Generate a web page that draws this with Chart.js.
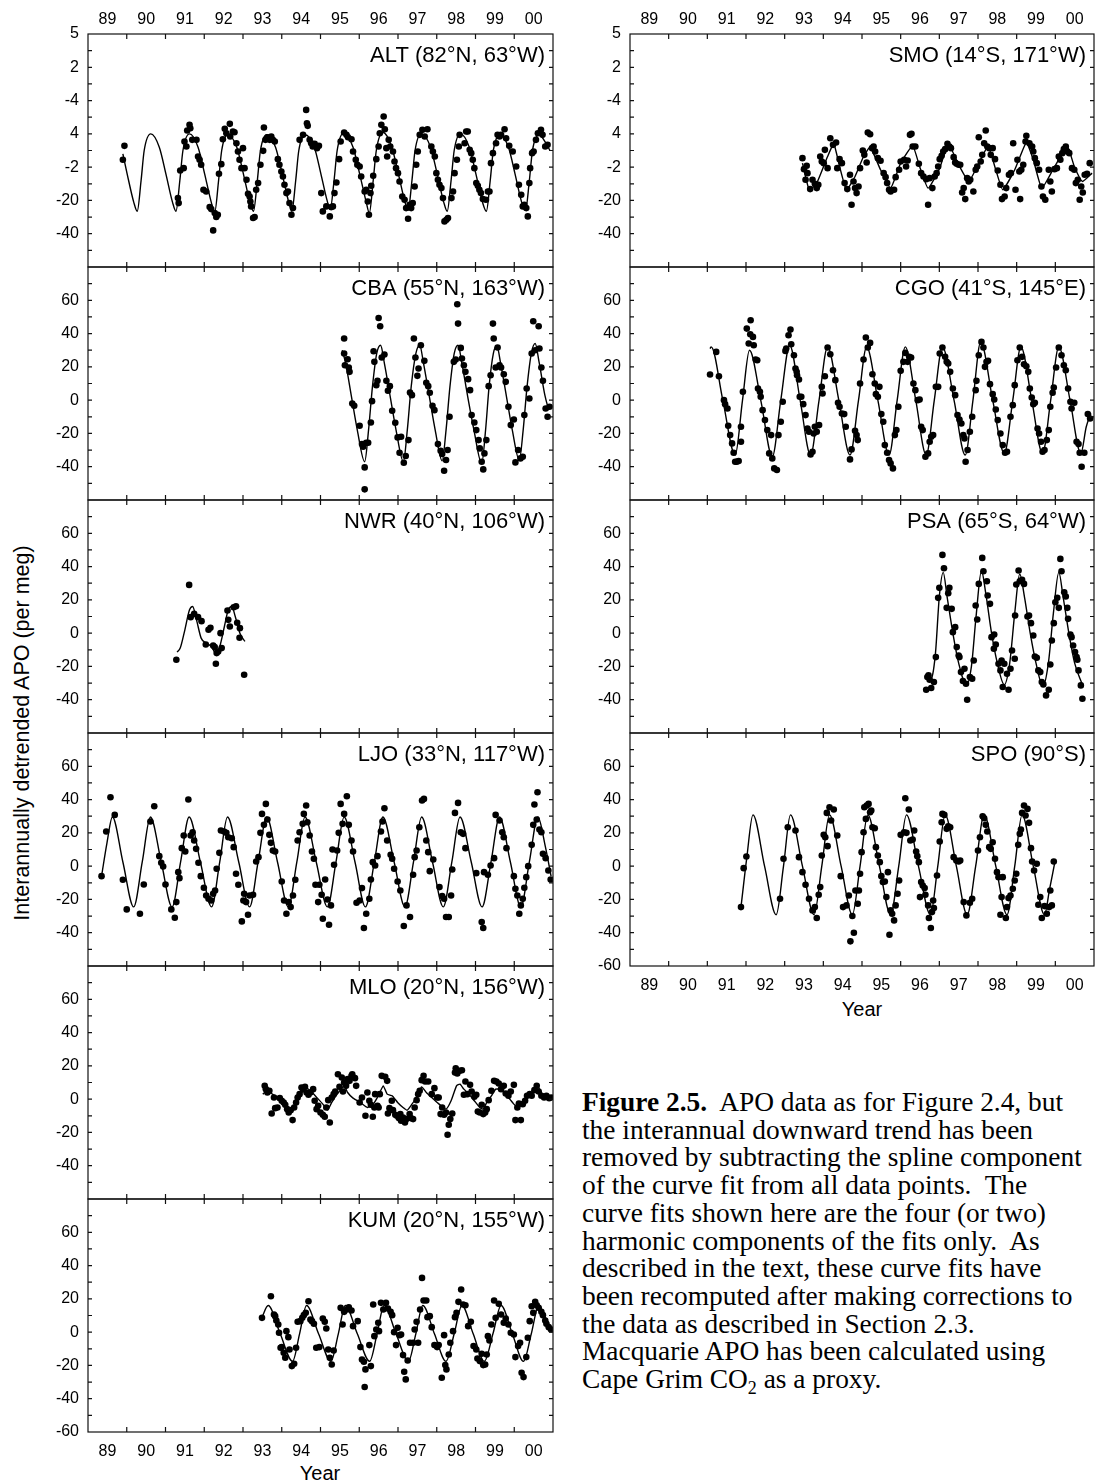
<!DOCTYPE html>
<html>
<head>
<meta charset="utf-8">
<script src="https://cdn.jsdelivr.net/npm/chart.js@4.4.1/dist/chart.umd.min.js"></script>
<style>
  body { margin: 0; width: 1095px; height: 1483px; overflow: hidden; background: #fff; position: relative;
         font-family: "Liberation Sans", Arial, sans-serif; color: #000; }
  canvas { position: absolute; }
  .ytitle { position: absolute; left: 22px; top: 733px; font-size: 21.5px; white-space: nowrap;
            transform: translate(-50%, -50%) rotate(-90deg); }
  .xtitle { position: absolute; font-size: 20px; transform: translate(-50%, -50%); }
  .caption { position: absolute; left: 582px; top: 1089px; font-family: "Liberation Serif", "Times New Roman", serif;
             font-size: 27.4px; line-height: 27.7px; white-space: nowrap; }
</style>
</head>
<body>
<div class="ytitle">Interannually detrended APO (per meg)</div>
<div class="xtitle" style="left:320px; top:1473px">Year</div>
<div class="xtitle" style="left:862px; top:1009px">Year</div>
<div class="caption"><b>Figure 2.5.</b>&nbsp; APO data as for Figure 2.4, but<br>
the interannual downward trend has been<br>
removed by subtracting the spline component<br>
of the curve fit from all data points.&nbsp; The<br>
curve fits shown here are the four (or two)<br>
harmonic components of the fits only.&nbsp; As<br>
described in the text, these curve fits have<br>
been recomputed after making corrections to<br>
the data as described in Section 2.3.<br>
Macquarie APO has been calculated using<br>
Cape Grim CO<sub style="font-size:18px; line-height:0">2</sub> as a proxy.</div>
<script>
// tick labels
const yearLabels = ['89', '90', '91', '92', '93', '94', '95', '96', '97', '98', '99', '00'];
const yTickValues = [80, 60, 40, 20, 0, -20, -40, -60];
const oddTicks = ['5', '2', '-4', '4', '-2', '-20', '-40', ''];
const plainTicks = ['', '60', '40', '20', '0', '-20', '-40', ''];
const bottomTicks = ['', '60', '40', '20', '0', '-20', '-40', '-60'];

// ALT
const altFit = [
  [1989.90, 8], [1990.01, -4], [1990.18, -21],
  [1990.27, -26.5], [1990.37, -8], [1990.45, 10], [1990.62, 20], [1990.84, 12], [1991.01, -4], [1991.18, -21],
  [1991.27, -26.5], [1991.37, -8], [1991.45, 10], [1991.62, 20], [1991.84, 12], [1992.01, -4], [1992.18, -21],
  [1992.27, -27], [1992.37, -8], [1992.45, 10], [1992.60, 19.5], [1992.84, 12], [1993.01, -4], [1993.18, -21],
  [1993.27, -26.5], [1993.37, -8], [1993.45, 10], [1993.61, 19.5], [1993.84, 12], [1994.01, -4], [1994.18, -21],
  [1994.26, -26.5], [1994.36, -8], [1994.44, 10], [1994.60, 19.5], [1994.84, 12], [1995.01, -4], [1995.17, -20],
  [1995.25, -25.5], [1995.35, -8], [1995.43, 10], [1995.60, 20.5], [1995.84, 12], [1996.01, -4], [1996.18, -21],
  [1996.26, -27.5], [1996.36, -8], [1996.44, 10], [1996.61, 21], [1996.84, 12], [1997.01, -4], [1997.18, -21],
  [1997.26, -26], [1997.36, -8], [1997.44, 10], [1997.60, 20], [1997.84, 12], [1998.01, -4], [1998.18, -21],
  [1998.27, -26.5], [1998.37, -8], [1998.45, 10], [1998.61, 20], [1998.84, 12], [1999.01, -4], [1999.18, -21],
  [1999.28, -26.5], [1999.38, -8], [1999.46, 10], [1999.63, 19.5], [1999.85, 12], [2000.02, -4], [2000.19, -21],
  [2000.29, -26], [2000.39, -8], [2000.47, 10], [2000.64, 19.5], [2000.85, 13], [2000.92, 10]
];
const altObs = [
  [1989.90, 4.4], [1989.94, 12.8], [1991.32, -18.6], [1991.34, -21.6], [1991.38, -2], [1991.47, -0.6], [1991.49, 15.4],
  [1991.54, 12.4], [1991.56, 22], [1991.62, 25.4], [1991.64, 23.4], [1991.69, 16.4], [1991.80, 16.4], [1991.84, 6.4],
  [1991.88, 4.4], [1991.92, 1.4], [1991.98, -13.6], [1992.05, -14.6], [1992.14, -24], [1992.18, -25.2], [1992.23, -38],
  [1992.27, -27.6], [1992.31, -30], [1992.35, -28.6], [1992.38, -4], [1992.44, 1.8], [1992.48, 16.8], [1992.53, 23],
  [1992.57, 20.4], [1992.66, 26], [1992.67, 18.4], [1992.74, 21.4], [1992.78, 21], [1992.83, 14.4], [1992.87, 9.4],
  [1992.91, 4.4], [1992.96, -0.6], [1993.00, 11.4], [1993.04, -0.6], [1993.09, -7.6], [1993.13, -16], [1993.17, -17.6],
  [1993.19, -20.6], [1993.21, -23.6], [1993.26, -30.6], [1993.30, -30], [1993.34, -13.6], [1993.39, -9.6], [1993.45, 1.4],
  [1993.52, 9.8], [1993.54, 23.8], [1993.58, 16.4], [1993.64, 18], [1993.69, 16.4], [1993.73, 18.4], [1993.77, 16.4],
  [1993.82, 15.4], [1993.90, 4.8], [1993.94, 1.4], [1993.99, -2.6], [1994.03, -5.6], [1994.07, -10.6], [1994.12, -15.6],
  [1994.16, -14.6], [1994.20, -21.6], [1994.25, -28.6], [1994.29, -24.6], [1994.46, 16.4], [1994.55, 19.4], [1994.63, 34.4],
  [1994.65, 26.4], [1994.67, 24.8], [1994.72, 16.4], [1994.76, 14.4], [1994.80, 12.4], [1994.85, 14], [1994.91, 11.4],
  [1994.96, 12.8], [1995.02, -15.6], [1995.06, -26.6], [1995.15, -23.6], [1995.24, -29.6], [1995.28, -24], [1995.32, -23.6],
  [1995.36, -15.6], [1995.41, -9.2], [1995.48, 4.8], [1995.52, 15.4], [1995.61, 20.8], [1995.67, 19.4], [1995.71, 18],
  [1995.80, 16.8], [1995.84, 9.4], [1995.91, 4.4], [1995.95, 1.4], [1996.01, 0.4], [1996.05, -5.6], [1996.14, -14.6],
  [1996.18, -13.6], [1996.22, -20.6], [1996.25, -28.6], [1996.29, -15.6], [1996.31, -11.2], [1996.36, -5.2], [1996.44, 4.8],
  [1996.50, 12.4], [1996.53, 20.4], [1996.57, 25.4], [1996.63, 30.4], [1996.66, 22.8], [1996.70, 11.4], [1996.72, 6.4],
  [1996.76, 16.4], [1996.80, 12.4], [1996.87, 9.4], [1996.91, 3.4], [1996.95, -0.6], [1997.00, -3.6], [1997.04, -8.6],
  [1997.11, -17.6], [1997.17, -19.6], [1997.21, -24.6], [1997.26, -31], [1997.30, -22.6], [1997.34, -24.6], [1997.38, -21.6],
  [1997.43, -11.6], [1997.47, 1.4], [1997.51, 9.4], [1997.56, 19.4], [1997.63, 22.4], [1997.69, 18.4], [1997.76, 22.8],
  [1997.86, 12.4], [1997.90, 9.4], [1997.95, 6.4], [1997.99, -3.6], [1998.03, -7.6], [1998.07, -10.6], [1998.12, -12.6],
  [1998.16, -18.6], [1998.20, -32.6], [1998.25, -31.6], [1998.29, -30.6], [1998.38, -18.6], [1998.42, -14.6], [1998.46, -3.6],
  [1998.52, 4.4], [1998.57, 12.4], [1998.59, 19.4], [1998.72, 14.4], [1998.76, 21.4], [1998.80, 21.4], [1998.85, 10.4],
  [1998.89, 8.4], [1998.93, 4.4], [1998.97, -0.6], [1999.02, -9.6], [1999.06, -11.2], [1999.10, -13.6], [1999.14, -15.6],
  [1999.19, -19.2], [1999.27, -19.6], [1999.32, -14.6], [1999.36, -14.6], [1999.40, 2.4], [1999.45, 8.4], [1999.53, 14.4],
  [1999.57, 19.4], [1999.62, 18.4], [1999.66, 19.4], [1999.75, 22.8], [1999.79, 17.4], [1999.87, 12.8], [1999.96, 9.4],
  [2000.05, 0.4], [2000.12, -10.6], [2000.18, -16.6], [2000.22, -23.6], [2000.26, -22.6], [2000.31, -24.6], [2000.35, -29.6],
  [2000.39, -9.6], [2000.41, -0.6], [2000.46, 8.4], [2000.50, 9.4], [2000.56, 16.4], [2000.61, 20.4], [2000.69, 22.4],
  [2000.73, 19.4], [2000.80, 12.4], [2000.86, 13.4]
];

// CBA
const cbaFit = [
  [1995.56, 30], [1995.65, 22], [1995.80, 2], [1995.95, -18],
  [1996.14, -37], [1996.24, -18], [1996.34, 8], [1996.45, 28], [1996.55, 33], [1996.65, 22], [1996.80, 2], [1996.95, -18],
  [1997.14, -37], [1997.24, -18], [1997.34, 8], [1997.46, 28], [1997.56, 33], [1997.66, 22], [1997.81, 2], [1997.96, -18],
  [1998.14, -36.5], [1998.24, -18], [1998.34, 8], [1998.45, 28], [1998.55, 33], [1998.65, 22], [1998.80, 2], [1998.96, -18],
  [1999.16, -38], [1999.26, -18], [1999.35, 8], [1999.46, 28], [1999.55, 32.5], [1999.65, 22], [1999.80, 2], [1999.95, -18],
  [2000.13, -36], [2000.23, -18], [2000.33, 8], [2000.44, 28], [2000.54, 34], [2000.64, 23], [2000.79, 3], [2000.89, -6]
];
const cbaObs = [
  [1995.61, 37], [1995.61, 28], [1995.63, 21], [1995.70, 24.6], [1995.73, 19.6], [1995.75, 17], [1995.82, -2], [1995.87, -3.4],
  [1996.01, -15.4], [1996.07, -26.4], [1996.10, -28], [1996.14, -40.4], [1996.14, -53.6], [1996.18, -25.6], [1996.23, -25.6],
  [1996.30, -13.4], [1996.33, -0.6], [1996.39, 23], [1996.37, 29.4], [1996.44, 9], [1996.47, 11.6], [1996.50, 49.4],
  [1996.54, 44.4], [1996.58, 25.6], [1996.65, 27.4], [1996.70, 11.6], [1996.74, 5.6], [1996.79, 8.4], [1996.85, -6.4],
  [1996.93, -13.6], [1996.99, -22.4], [1997.04, -31.6], [1997.08, -22], [1997.15, -37.6], [1997.20, -33.6], [1997.27, -24],
  [1997.31, 4.6], [1997.36, 3], [1997.41, 37], [1997.45, 25.6], [1997.50, 14.6], [1997.53, 19], [1997.59, 33], [1997.68, 23.6],
  [1997.73, 10.4], [1997.78, 8.4], [1997.82, 4.4], [1997.89, -3.4], [1997.94, -6], [1998.03, -26.4], [1998.10, -30.4],
  [1998.14, -32.4], [1998.19, -42.4], [1998.24, -36], [1998.28, -30], [1998.33, -10], [1998.44, 23], [1998.49, 24.4],
  [1998.53, 57.6], [1998.55, 46], [1998.62, 31.4], [1998.65, 25], [1998.70, 21], [1998.74, 17], [1998.81, 12.6], [1998.86, 6],
  [1998.90, -9], [1998.97, -13.4], [1999.02, -18], [1999.08, -24], [1999.11, -29], [1999.16, -37], [1999.20, -41.6],
  [1999.23, -32], [1999.28, -24], [1999.34, 8.4], [1999.39, 15], [1999.45, 46], [1999.47, 37], [1999.52, 19.6], [1999.57, 31.6],
  [1999.62, 21], [1999.66, 19.6], [1999.73, 15.6], [1999.78, 11], [1999.85, -4], [1999.91, -15], [1999.99, -11.6],
  [2000.03, -37.4], [2000.10, -30], [2000.16, -35], [2000.22, -34], [2000.26, -9], [2000.32, 7], [2000.39, 1], [2000.45, 28],
  [2000.49, 47.4], [2000.54, 30], [2000.63, 44.4], [2000.65, 31], [2000.70, 19.6], [2000.74, 11.6], [2000.81, -5],
  [2000.86, -10], [2000.91, -4]
];

// NWR
const nwrFit = [
  [1991.30, -11.4], [1991.38, -9], [1991.50, 2], [1991.62, 14], [1991.70, 16], [1991.80, 8], [1991.92, -3], [1992.05, -6],
  [1992.18, -8], [1992.30, -12], [1992.40, -8], [1992.52, 4], [1992.62, 14], [1992.71, 16], [1992.80, 10], [1992.92, 0],
  [1993.05, -5]
];
const nwrObs = [
  [1991.28, -16], [1991.61, 29], [1991.65, 9.6], [1991.74, 11.6], [1991.84, 9.6], [1991.93, 7.2], [1992.04, -6.8],
  [1992.11, 2], [1992.16, 3.2], [1992.23, -7.4], [1992.27, -8.4], [1992.30, -18.4], [1992.32, -12], [1992.36, -11],
  [1992.42, 0], [1992.45, -9], [1992.60, 13.6], [1992.62, 8], [1992.66, 4], [1992.76, 15.6], [1992.82, 16.2],
  [1992.85, 6.2], [1992.92, 3], [1992.91, -2.8], [1993.03, -25]
];

// LJO
const ljoFit = [
  [1989.35, -6], [1989.49, 14], [1989.63, 29.5], [1989.90, 2.5],
  [1990.18, -24.5], [1990.40, 2.5], [1990.61, 29.5], [1990.89, 2.5],
  [1991.17, -24.5], [1991.39, 2.5], [1991.61, 29.5], [1991.90, 2.5],
  [1992.19, -24.5], [1992.40, 2.5], [1992.60, 29.5], [1992.89, 2.5],
  [1993.17, -24.5], [1993.39, 2.5], [1993.61, 29.5], [1993.89, 2.5],
  [1994.17, -24.5], [1994.39, 2.5], [1994.60, 29.5], [1994.89, 2.5],
  [1995.18, -24.5], [1995.40, 2.5], [1995.61, 29.5], [1995.89, 2.5],
  [1996.16, -24.5], [1996.39, 2.5], [1996.61, 29.5], [1996.90, 2.5],
  [1997.18, -24.5], [1997.40, 2.5], [1997.61, 29.5], [1997.89, 2.5],
  [1998.17, -24.5], [1998.39, 2.5], [1998.60, 29.5], [1998.89, 2.5],
  [1999.17, -24.5], [1999.40, 2.5], [1999.62, 29.5], [1999.90, 2.5],
  [2000.17, -24.5], [2000.39, 2.5], [2000.61, 29.5], [2000.80, 12], [2000.95, -6]
];
const ljoObs = [
  [1989.35, -6], [1989.47, 20.8], [1989.58, 41.4], [1989.69, 30.8], [1989.90, -8.2], [1990.00, -26], [1990.34, -28.6],
  [1990.44, -11], [1990.71, 36], [1990.61, 26.8], [1990.84, 6], [1990.89, 2], [1990.94, -0.2], [1991.00, -11],
  [1991.15, -26], [1991.24, -31], [1991.28, -21.6], [1991.33, -3.6], [1991.36, -7.2], [1991.42, 10.8], [1991.47, 18.4],
  [1991.51, 8.8], [1991.59, 40], [1991.65, 18.4], [1991.70, 20.4], [1991.74, 15.4], [1991.79, 10.4], [1991.85, 2],
  [1991.91, -6], [1991.99, -13], [1992.05, -17.6], [1992.11, -19.6], [1992.18, -20.6], [1992.23, -16.6], [1992.28, -14.6],
  [1992.32, -1.6], [1992.39, 8], [1992.43, 21.4], [1992.51, 20.8], [1992.57, 20], [1992.62, 17.4], [1992.71, 16.8],
  [1992.76, 11.4], [1992.82, -4.6], [1992.88, -11.2], [1992.97, -33.2], [1993.01, -20.6], [1993.03, -16.6], [1993.08, -21.6],
  [1993.13, -29.2], [1993.17, -17.6], [1993.26, -17.2], [1993.34, 2.8], [1993.40, 5.4], [1993.45, 20], [1993.49, 31.4],
  [1993.54, 24.8], [1993.59, 37.4], [1993.63, 28], [1993.68, 18.8], [1993.72, 14], [1993.77, 9.4], [1993.83, 8.8],
  [1994.00, -9.2], [1994.06, -20.6], [1994.12, -28.6], [1994.18, -21.6], [1994.23, -24.6], [1994.29, -17.6], [1994.35, -8.2],
  [1994.41, 15.4], [1994.46, 20.4], [1994.54, 25.4], [1994.57, 31.4], [1994.63, 36.4], [1994.66, 26.4], [1994.72, 18.4],
  [1994.78, 8.8], [1994.83, 4.4], [1994.87, -11.2], [1994.94, -21.6], [1994.97, -11.2], [1995.03, -17.2], [1995.06, -31.6],
  [1995.12, -8], [1995.18, -20], [1995.22, -35.2], [1995.27, -23.6], [1995.31, 10], [1995.35, 0.8], [1995.43, 9.4],
  [1995.47, 20], [1995.52, 37.4], [1995.57, 25.4], [1995.61, 31.4], [1995.68, 42], [1995.73, 24.8], [1995.80, 15.4],
  [1995.84, 8.8], [1995.93, -22], [1996.01, -20.6], [1996.07, -13.2], [1996.12, -37.2], [1996.18, -28.6], [1996.26, -19.6],
  [1996.30, -8], [1996.35, 2.4], [1996.41, 0.4], [1996.47, 6], [1996.56, 20.8], [1996.60, 26.8], [1996.65, 34.8],
  [1996.72, 15.4], [1996.81, 6.8], [1996.85, 4.4], [1996.90, -1.6], [1996.99, -9.2], [1997.06, -14.6], [1997.15, -36],
  [1997.22, -23.6], [1997.31, -30.6], [1997.39, -5.2], [1997.43, 5.4], [1997.48, 9.4], [1997.55, 23.4], [1997.62, 39.4],
  [1997.67, 40.4], [1997.73, 15.4], [1997.78, 8.4], [1997.82, -3], [1997.91, 4], [1998.07, -12.6], [1998.14, -18],
  [1998.19, -19.6], [1998.24, -30.6], [1998.31, -30.6], [1998.37, -17.6], [1998.40, -2], [1998.47, 32], [1998.55, 38],
  [1998.62, 20.4], [1998.68, 19.4], [1998.74, 10.8], [1999.02, -4.2], [1999.16, -33.6], [1999.20, -37.2], [1999.22, -3.6],
  [1999.32, -5.2], [1999.39, 0.4], [1999.48, 4.8], [1999.52, 30.8], [1999.62, 27.4], [1999.69, 20.4], [1999.73, 17.4],
  [1999.80, 10.8], [1999.99, -6], [2000.03, -13.6], [2000.08, -17.6], [2000.13, -28.6], [2000.17, -23.6], [2000.22, -19.6],
  [2000.26, -13], [2000.31, -6.6], [2000.36, 0], [2000.45, 12.8], [2000.49, 24.8], [2000.52, 37], [2000.58, 28],
  [2000.60, 44.4], [2000.65, 22], [2000.70, 20.4], [2000.74, 7.4], [2000.81, 4.8], [2000.88, -2.6], [2000.94, -8]
];

// MLO
const mloFit = [
  [1993.51, 3], [1993.63, 5], [1993.82, 2], [1994.00, -1], [1994.14, -5], [1994.23, -7.4], [1994.32, -5], [1994.46, 1],
  [1994.60, 7], [1994.74, 5], [1994.92, 0.6], [1995.06, -3], [1995.18, -6.6], [1995.29, -2], [1995.43, 3], [1995.61, 8],
  [1995.70, 4], [1995.84, 0.6], [1996.03, -2], [1996.21, -5], [1996.35, -3.4], [1996.49, 2], [1996.62, 8], [1996.72, 3],
  [1996.85, 2], [1996.99, -2], [1997.13, -5], [1997.24, -6.6], [1997.36, -3], [1997.48, 1], [1997.61, 7.4], [1997.73, 4],
  [1997.87, 1], [1998.01, -2], [1998.24, -6], [1998.37, -1], [1998.51, 8], [1998.60, 9], [1998.70, 6], [1998.83, 3],
  [1998.97, -1], [1999.11, -5], [1999.20, -6], [1999.29, -2], [1999.41, 2], [1999.52, 6], [1999.62, 6], [1999.73, 4],
  [1999.85, 1], [1999.99, -3], [2000.10, -5], [2000.19, -3.4], [2000.34, 0.6], [2000.46, 4], [2000.58, 8.6], [2000.72, 3.4],
  [2000.95, 1]
];
const mloObs = [
  [1993.56, 8], [1993.59, 6], [1993.63, 4], [1993.68, 5], [1993.74, -8.6], [1993.80, 1], [1993.83, -5.4], [1993.89, -5],
  [1993.95, 0.6], [1994.00, -1], [1994.05, -2], [1994.09, -3.4], [1994.14, -6], [1994.18, -8], [1994.23, -6.6],
  [1994.28, -12.6], [1994.32, -5], [1994.37, -2], [1994.41, 1], [1994.46, 3], [1994.51, 7], [1994.55, 6], [1994.60, 7.4],
  [1994.64, 4], [1994.69, 2.6], [1994.74, 4], [1994.81, 6], [1994.85, -1], [1994.90, -6], [1994.94, -4], [1995.00, -8],
  [1995.06, -9.4], [1995.11, -10.6], [1995.15, -5], [1995.20, -0.6], [1995.24, -14], [1995.29, 1], [1995.34, 3],
  [1995.38, 4.6], [1995.45, 15], [1995.49, 7.4], [1995.55, 13], [1995.58, 4.6], [1995.61, 10], [1995.66, 8], [1995.70, 12],
  [1995.75, 11], [1995.80, 14], [1995.82, 15], [1995.89, 12.6], [1995.92, 8], [1996.01, -2], [1996.07, 1], [1996.16, -10],
  [1996.21, 4], [1996.26, -1], [1996.30, -3.4], [1996.35, -10.6], [1996.39, -5], [1996.41, 3], [1996.47, -4], [1996.50, -5],
  [1996.53, 3], [1996.58, 14], [1996.67, 13.4], [1996.72, 11], [1996.74, -8.6], [1996.78, -5.4], [1996.84, -1],
  [1996.87, -6.6], [1996.93, -9.4], [1996.97, -10], [1997.02, -11.4], [1997.06, -9], [1997.08, -13], [1997.13, -11],
  [1997.18, -14], [1997.22, -12], [1997.30, -9], [1997.33, -11.4], [1997.39, -12], [1997.43, -5], [1997.48, -0.6],
  [1997.52, 3], [1997.56, 5], [1997.61, 11.4], [1997.66, 14], [1997.70, 10.6], [1997.78, 10.6], [1997.87, 3], [1997.94, 6.6],
  [1998.01, 1], [1998.05, 1], [1998.10, -9], [1998.14, -5], [1998.19, -9.4], [1998.24, -8], [1998.28, -21.4], [1998.31, -15.4],
  [1998.35, -12], [1998.40, -8.6], [1998.47, 16], [1998.49, 18.6], [1998.53, 15.4], [1998.59, 17], [1998.65, 17.4],
  [1998.70, 2.6], [1998.74, 10.6], [1998.79, 3], [1998.86, 8.6], [1998.90, 4.6], [1998.97, 1.4], [1999.02, 2.6],
  [1999.06, -7.4], [1999.11, -8], [1999.16, -3.4], [1999.20, -9], [1999.25, -8], [1999.29, -6], [1999.34, -0.6], [1999.41, 5],
  [1999.48, 11], [1999.54, 10.6], [1999.60, 9.4], [1999.66, 6], [1999.73, 8], [1999.78, 3.4], [1999.85, 2], [1999.91, 4.6],
  [1999.99, 8.6], [2000.03, -12.6], [2000.08, -5], [2000.12, -2.6], [2000.17, -12.6], [2000.22, -3], [2000.28, -1],
  [2000.33, 2], [2000.40, 3], [2000.45, 2], [2000.52, 5.4], [2000.58, 8], [2000.63, 4.6], [2000.70, 2], [2000.77, 1],
  [2000.83, 2], [2000.90, 0.6], [2000.95, 1]
];

// KUM
const kumFit = [
  [1993.49, 9], [1993.65, 16], [1993.96, -1],
  [1994.28, -17.5], [1994.46, -1], [1994.64, 16], [1994.95, -1],
  [1995.27, -17.5], [1995.46, -1], [1995.64, 16], [1995.95, -1],
  [1996.27, -17.5], [1996.46, -1], [1996.64, 16], [1996.95, -1],
  [1997.27, -17.5], [1997.46, -1], [1997.64, 16], [1997.94, -1],
  [1998.24, -17.5], [1998.45, -1], [1998.65, 16], [1998.94, -1],
  [1999.23, -17.5], [1999.45, -1], [1999.66, 16], [1999.95, -1],
  [2000.24, -17.5], [2000.44, -1], [2000.63, 16], [2000.80, 9], [2000.95, 1.6]
];
const kumObs = [
  [1993.49, 8.6], [1993.72, 21.6], [1993.80, 10.6], [1993.83, 9.6], [1993.86, 7], [1993.91, 4.6], [1993.93, -0.4],
  [1993.97, -9.4], [1994.00, -9], [1994.05, -12.4], [1994.09, -15.4], [1994.12, 0.6], [1994.17, -3], [1994.20, -10.4],
  [1994.26, -20.4], [1994.32, -19], [1994.37, -9.4], [1994.41, 6.2], [1994.48, 6.6], [1994.53, 8.6], [1994.57, 10.2],
  [1994.62, 11.6], [1994.69, 18.6], [1994.74, 7.6], [1994.78, 6.6], [1994.83, 5], [1994.89, -9.4], [1994.97, -9],
  [1995.06, 8.2], [1995.11, 6.2], [1995.15, 2.2], [1995.20, -10.4], [1995.24, -15.4], [1995.29, -19.4], [1995.34, -11],
  [1995.52, 14.6], [1995.57, 4.6], [1995.61, 12.2], [1995.68, 13.6], [1995.73, 15], [1995.80, 13], [1995.84, 3.6],
  [1995.96, 6.6], [1996.03, -9], [1996.07, -16.4], [1996.12, -17.8], [1996.14, -33], [1996.16, -22.4], [1996.26, -7.8],
  [1996.30, -20.4], [1996.36, 16.6], [1996.39, -2.4], [1996.44, 1.6], [1996.49, 5.6], [1996.51, 0.6], [1996.56, 17.6],
  [1996.62, 13.6], [1996.69, 17.6], [1996.74, 14.2], [1996.81, 12.2], [1996.85, 10.2], [1996.90, 0], [1996.95, -7.8],
  [1996.99, 2.6], [1997.04, -1.8], [1997.08, -1.4], [1997.13, -13.8], [1997.16, -23.8], [1997.20, -28.4], [1997.25, -17],
  [1997.31, -6.4], [1997.39, -6.4], [1997.43, 1.6], [1997.48, 6.2], [1997.52, -6.4], [1997.57, 13.6], [1997.62, 32.6],
  [1997.66, 19], [1997.73, 19], [1997.76, 9], [1997.82, 9.6], [1997.87, 3], [1997.94, -7.8], [1998.01, -9], [1998.05, -7.8],
  [1998.13, -27.4], [1998.19, -1.8], [1998.22, -19.8], [1998.25, -22.4], [1998.31, -13.4], [1998.35, -6.4], [1998.42, 0.6],
  [1998.47, 9], [1998.51, 11.6], [1998.56, 18.2], [1998.63, 25.6], [1998.68, 16.6], [1998.74, 16.2], [1998.81, 3.6],
  [1998.88, 6.2], [1998.95, -8.4], [1999.02, -10.4], [1999.05, -15.8], [1999.11, -17.4], [1999.16, -13], [1999.20, -19.8],
  [1999.25, -19.4], [1999.29, -13.4], [1999.32, -2.4], [1999.36, -5], [1999.41, 4.6], [1999.48, 19], [1999.52, 8.6],
  [1999.60, 17], [1999.66, 10.6], [1999.73, 5.6], [1999.78, 8.2], [1999.85, 4.6], [1999.91, -0.4], [1999.99, -1.4],
  [2000.03, -15], [2000.10, -8.4], [2000.15, -6.4], [2000.19, -24.4], [2000.24, -27], [2000.31, -15], [2000.35, -3.4],
  [2000.40, 6.6], [2000.45, 15.6], [2000.49, 11.6], [2000.54, 18.2], [2000.58, 16.2], [2000.63, 14.6], [2000.70, 12.2],
  [2000.74, 10.2], [2000.80, 7], [2000.83, 5], [2000.89, 3], [2000.95, 1.6]
];

// SMO
const smoFit = [
  [1993.46, 2.4], [1993.63, -13.2], [1993.81, -10.6], [1994.11, 6.4], [1994.27, 14], [1994.42, 0.4], [1994.60, -13.6],
  [1994.82, -5.6], [1995.04, 6.4], [1995.21, 12], [1995.48, -1.6], [1995.74, -12.6], [1996.00, 2.4], [1996.31, 12.8],
  [1996.49, 0.4], [1996.71, -12.6], [1997.01, -0.6], [1997.23, 14], [1997.50, 1.4], [1997.76, -8.6], [1997.98, 0.4],
  [1998.26, 12.4], [1998.46, -1.6], [1998.64, -13.6], [1998.95, -1.6], [1999.25, 14.8], [1999.43, 4.4], [1999.65, -12.6],
  [1999.96, -0.6], [2000.31, 12.4], [2000.49, 0.4], [2000.70, -8.6], [2000.95, -3.6]
];
const smoObs = [
  [1993.46, 5.4], [1993.50, -1.2], [1993.57, 0.8], [1993.59, -3.6], [1993.54, -7.6], [1993.66, -13.2], [1993.72, -7.6],
  [1993.78, -10], [1993.83, -12.6], [1993.87, -10.6], [1993.92, 6.4], [1993.96, 3.4], [1994.01, 2.4], [1994.04, 10.4],
  [1994.11, -0.6], [1994.18, 17.4], [1994.25, 13.4], [1994.33, 14.8], [1994.36, -0.6], [1994.42, 4.8], [1994.48, 2.4],
  [1994.55, -9.6], [1994.62, -13.2], [1994.69, -4.6], [1994.73, -22.6], [1994.78, -8.6], [1994.82, -12.6], [1994.86, -15.6],
  [1994.91, -11.6], [1994.95, -0.6], [1995.02, 10], [1995.06, 7.4], [1995.12, 2.8], [1995.15, 20.8], [1995.21, 19.8],
  [1995.26, 11.4], [1995.30, 12.4], [1995.34, 9.4], [1995.41, 5.4], [1995.48, 3.8], [1995.56, -3.6], [1995.61, -6],
  [1995.65, -9.6], [1995.70, -13.6], [1995.74, -14.6], [1995.83, -13.6], [1995.87, -6], [1995.96, -1.6], [1996.00, 3.4],
  [1996.09, 4.4], [1996.14, 0.4], [1996.18, 4], [1996.24, 19.4], [1996.28, 20], [1996.31, 12.4], [1996.38, 12.4],
  [1996.47, 2], [1996.53, -3.6], [1996.59, -5.6], [1996.66, -7.2], [1996.71, -22.6], [1996.75, -6.6], [1996.82, -12.6],
  [1996.88, -5.6], [1996.93, -3.6], [1996.97, 0.4], [1997.01, 4.8], [1997.06, 6.8], [1997.10, 9.4], [1997.15, 10.8],
  [1997.21, 14], [1997.26, 12.4], [1997.30, 11.4], [1997.37, 6], [1997.41, 2.8], [1997.45, 2], [1997.50, 1.4], [1997.54, 1.4],
  [1997.59, -15.2], [1997.63, -12.6], [1997.67, -19.2], [1997.72, -6.6], [1997.76, -8.6], [1997.80, -7.6], [1997.88, -14.6],
  [1997.94, -1.6], [1997.98, 0.4], [1998.02, 18], [1998.07, 3.4], [1998.11, 7.4], [1998.16, 14.4], [1998.20, 22],
  [1998.24, 12.4], [1998.29, 11.4], [1998.33, 7.4], [1998.38, 11.4], [1998.44, 4.8], [1998.51, -2], [1998.58, -10.6],
  [1998.62, -19.2], [1998.69, -17.6], [1998.73, -12.6], [1998.80, -4.6], [1998.85, -3.6], [1998.91, 14.4], [1998.97, -13.6],
  [1999.02, 4.4], [1999.07, -2.6], [1999.09, -19.2], [1999.12, -1.6], [1999.17, 1.4], [1999.23, 15.4], [1999.25, 18.8],
  [1999.33, 14.4], [1999.40, 12.4], [1999.43, 9.4], [1999.47, 5.4], [1999.52, 2.4], [1999.58, -1.6], [1999.64, -11.6],
  [1999.68, -17.6], [1999.74, -19.6], [1999.83, -1.6], [1999.87, -8.6], [1999.91, -14.6], [1999.98, -1.2], [2000.04, -0.6],
  [2000.09, 6.4], [2000.13, 4.4], [2000.18, 8.4], [2000.22, 10.8], [2000.27, 12.4], [2000.31, 9.4], [2000.36, 8.4],
  [2000.43, -0.6], [2000.49, -1.6], [2000.53, -9.6], [2000.58, -7.6], [2000.63, -19.6], [2000.67, -11.6], [2000.71, -15.2],
  [2000.76, -4.6], [2000.82, -4], [2000.89, 2.4]
];

// CGO
const cgoFit = [
  [1991.07, 31], [1991.10, 32], [1991.40, 0], [1991.72, -33], [1991.91, 0], [1992.09, 30], [1992.39, -1], [1992.68, -34],
  [1992.90, 0], [1993.13, 33], [1993.40, 0], [1993.67, -33], [1993.89, 0], [1994.11, 32], [1994.40, 0], [1994.69, -33],
  [1994.91, 0], [1995.12, 32], [1995.41, 0], [1995.70, -33], [1995.91, 0], [1996.12, 32], [1996.39, 0], [1996.66, -33],
  [1996.87, 0], [1997.08, 32], [1997.38, 0], [1997.67, -33], [1997.87, 0], [1998.07, 35], [1998.38, 0], [1998.68, -32],
  [1998.90, 0], [1999.11, 32], [1999.39, 0], [1999.67, -32], [1999.88, 0], [2000.09, 32], [2000.38, 0], [2000.66, -32],
  [2000.80, -16], [2000.92, -8]
];
const cgoObs = [
  [1991.07, 15.4], [1991.23, 29], [1991.30, 14.4], [1991.43, 0], [1991.46, -2.4], [1991.52, -5], [1991.54, -15.4],
  [1991.59, -21], [1991.64, -26], [1991.68, -31.6], [1991.72, -37], [1991.76, -37], [1991.81, -36.6], [1991.87, -25],
  [1991.87, -16], [1991.92, 5], [1992.02, 43], [1992.07, 34], [1992.12, 48], [1992.11, 39.6], [1992.18, 38], [1992.20, 33],
  [1992.25, 24.4], [1992.29, 24], [1992.31, 7], [1992.36, 5], [1992.38, 2], [1992.43, -6], [1992.49, -12], [1992.55, -18],
  [1992.60, -32], [1992.65, -21], [1992.68, -35], [1992.73, -41], [1992.80, -42], [1992.84, -21], [1992.90, -13],
  [1992.95, -1], [1993.02, 29.6], [1993.04, 31], [1993.10, 39], [1993.15, 42.4], [1993.17, 33.6], [1993.24, 27],
  [1993.28, 19], [1993.31, 17], [1993.32, 15], [1993.37, 12.4], [1993.39, 2], [1993.43, 2], [1993.48, -2.4], [1993.54, -9],
  [1993.59, -17], [1993.63, -19], [1993.67, -32.6], [1993.72, -31], [1993.75, -20], [1993.78, -16], [1993.83, -19],
  [1993.89, -15], [1993.96, 8], [1993.98, 4], [1994.04, 14.4], [1994.11, 31.6], [1994.18, 27.6], [1994.25, 18], [1994.31, 12],
  [1994.38, -1.6], [1994.42, -4], [1994.48, -8], [1994.54, -8.4], [1994.58, -16], [1994.69, -35.6], [1994.73, -29.6],
  [1994.82, -18.4], [1994.86, -21], [1994.89, -24], [1994.95, 10], [1995.04, 24.4], [1995.10, 37.6], [1995.15, 31.6],
  [1995.21, 34.4], [1995.27, 15.6], [1995.33, 10], [1995.36, 3.6], [1995.41, 2], [1995.45, 8], [1995.50, -8.4], [1995.55, -13],
  [1995.59, -27], [1995.65, -31.6], [1995.70, -36], [1995.74, -38], [1995.80, -41], [1995.85, -21], [1995.89, -18],
  [1995.94, -4], [1996.00, 17.6], [1996.07, 23], [1996.12, 28.4], [1996.18, 23], [1996.22, 26], [1996.27, 25.6], [1996.33, 10],
  [1996.38, 6], [1996.44, 0], [1996.49, 0.4], [1996.53, -16], [1996.57, -18], [1996.64, -34], [1996.71, -32], [1996.75, -25],
  [1996.79, -22], [1996.84, -21], [1996.91, 8], [1996.97, 8], [1997.01, 28], [1997.08, 31.6], [1997.15, 26], [1997.19, 23],
  [1997.23, 22], [1997.28, 17], [1997.35, 7], [1997.41, 3], [1997.47, -9], [1997.52, -11.6], [1997.57, -14], [1997.62, -21],
  [1997.65, -23], [1997.68, -37], [1997.73, -30], [1997.79, -19], [1997.85, -10], [1997.94, 6], [1997.96, 11.6], [1998.02, 27],
  [1998.09, 35], [1998.14, 31.6], [1998.18, 20], [1998.22, 23], [1998.26, 23.6], [1998.31, 9.6], [1998.38, 3.6], [1998.42, 0.4],
  [1998.46, -5.6], [1998.51, -12], [1998.58, -20], [1998.64, -27], [1998.70, -31.6], [1998.75, -31], [1998.84, -10],
  [1998.90, -3], [1998.95, 9], [1999.02, 24], [1999.08, 31.6], [1999.14, 26], [1999.19, 21.6], [1999.25, 20.4], [1999.30, 17],
  [1999.34, 7], [1999.39, 1.6], [1999.43, -2.4], [1999.47, -1.6], [1999.54, -17], [1999.58, -20], [1999.63, -25], [1999.67, -31],
  [1999.72, -30], [1999.78, -24], [1999.83, -18], [1999.87, -4], [1999.93, 4.4], [1999.96, 7.6], [2000.02, 19.6],
  [2000.09, 31.6], [2000.16, 27], [2000.22, 21], [2000.27, 18], [2000.33, 7], [2000.39, -1], [2000.42, -5], [2000.49, -1.6],
  [2000.55, -25], [2000.60, -26.4], [2000.63, -31.6], [2000.68, -40], [2000.75, -31.6], [2000.84, -8.4], [2000.90, -11]
];

// PSA
const psaFit = [
  [1996.68, -29], [1996.80, -27], [1996.90, -12], [1997.00, 22], [1997.10, 36.5], [1997.20, 22], [1997.35, 0],
  [1997.50, -18], [1997.70, -31], [1997.83, -20], [1997.95, 10], [1998.09, 37.5], [1998.20, 24], [1998.35, 0],
  [1998.50, -18], [1998.68, -31], [1998.82, -18], [1998.95, 12], [1999.08, 35.5], [1999.20, 22], [1999.35, 0],
  [1999.50, -18], [1999.68, -32], [1999.82, -18], [1999.95, 12], [2000.09, 36.5], [2000.20, 22], [2000.35, 0],
  [2000.50, -18], [2000.70, -31]
];
const psaObs = [
  [1996.66, -34], [1996.69, -26.4], [1996.72, -25.4], [1996.75, -28], [1996.79, -33], [1996.86, -29.4], [1996.91, -14.4],
  [1996.97, 21.2], [1997.00, 27.2], [1997.08, 47], [1997.12, 39], [1997.19, 15.2], [1997.23, 24], [1997.26, 27.2],
  [1997.32, 14.6], [1997.35, 0.6], [1997.41, 3.6], [1997.45, -8.4], [1997.50, -13.4], [1997.52, -14.4], [1997.56, -23.4],
  [1997.61, -28.8], [1997.65, -21.4], [1997.69, -30.4], [1997.72, -40], [1997.79, -26.4], [1997.85, -27.4], [1997.89, -16.4],
  [1997.94, 16.6], [1997.98, 8.2], [1998.02, 29.6], [1998.11, 45.2], [1998.14, 37.2], [1998.23, 31.2], [1998.25, 22.6],
  [1998.31, 17.6], [1998.35, -2.4], [1998.42, -0.8], [1998.41, -9.4], [1998.46, -6.8], [1998.53, -18.4], [1998.58, -22.4],
  [1998.61, -16.4], [1998.64, -32.4], [1998.68, -18.4], [1998.75, -24.4], [1998.79, -34], [1998.84, -21.4], [1998.88, -10.4],
  [1998.95, -15.4], [1998.96, 10.6], [1998.99, 29.2], [1999.05, 37.6], [1999.08, 31.2], [1999.14, 32], [1999.19, 29.6],
  [1999.28, 10], [1999.32, 10.6], [1999.37, 6], [1999.43, -1.4], [1999.47, -14], [1999.52, -14.8], [1999.56, -22.4],
  [1999.61, -23.4], [1999.65, -29.4], [1999.69, -30.8], [1999.76, -37.4], [1999.83, -34], [1999.87, -18.8], [1999.91, -4.4],
  [1999.96, 6], [2000.00, 18.6], [2000.05, 21.2], [2000.09, 15.2], [2000.13, 44.6], [2000.16, 37.2], [2000.23, 24.6],
  [2000.27, 22], [2000.31, 15.2], [2000.33, 8.6], [2000.39, -0.8], [2000.42, -2.4], [2000.46, -7.4], [2000.51, -11.4],
  [2000.55, -14.4], [2000.57, -16], [2000.60, -22.4], [2000.66, -31.4], [2000.70, -39.4]
];

// SPO
const spoFit = [
  [1991.87, -24.6], [1992.02, 5], [1992.18, 30.8], [1992.48, 0], [1992.78, -29.2], [1992.97, 0], [1993.15, 30.8],
  [1993.46, 0], [1993.76, -29.2], [1993.96, 0], [1994.16, 30.8], [1994.46, 0], [1994.75, -29.2], [1994.95, 0],
  [1995.15, 30.8], [1995.45, 0], [1995.74, -29.2], [1995.95, 0], [1996.15, 30.8], [1996.46, 0], [1996.77, -29.2],
  [1996.96, 0], [1997.15, 30.8], [1997.44, 0], [1997.72, -29.2], [1997.94, 0], [1998.16, 30.8], [1998.46, 0],
  [1998.75, -29.2], [1998.95, 0], [1999.14, 30.8], [1999.43, 0], [1999.72, -29.2], [1999.85, -14], [1999.98, 1.5]
];
const spoObs = [
  [1991.87, -24.6], [1991.94, -1.2], [1992.01, 5.8], [1992.88, -19.6], [1992.97, 4.4], [1993.08, 23.4], [1993.28, 21.4],
  [1993.37, 5.4], [1993.46, -3.6], [1993.54, -11.2], [1993.63, -19.6], [1993.72, -26.6], [1993.78, -24.6], [1993.83, -31.2],
  [1993.88, -17.2], [1993.92, -12.6], [1993.96, 6.4], [1994.01, 18.8], [1994.05, 17.4], [1994.09, 32], [1994.11, 12],
  [1994.16, 35.4], [1994.20, 27.4], [1994.27, 34], [1994.36, 18.4], [1994.45, -6], [1994.51, -24.6], [1994.60, -23.6],
  [1994.66, -17.6], [1994.70, -45.2], [1994.75, -30], [1994.79, -40], [1994.83, -14.6], [1994.89, -22.6], [1994.92, -14.6],
  [1994.95, -4.6], [1994.99, 8.4], [1995.04, 20.4], [1995.06, 35.4], [1995.10, 28.4], [1995.12, 36.4], [1995.17, 37.4],
  [1995.21, 32.4], [1995.24, 33.4], [1995.27, 23.4], [1995.33, 22.8], [1995.36, 11.4], [1995.41, 6.4], [1995.46, 2.4],
  [1995.50, -6], [1995.54, -9.6], [1995.59, -9.2], [1995.63, -18.6], [1995.67, -3.6], [1995.71, -41.2], [1995.74, -26.6],
  [1995.78, -28.6], [1995.83, -32.6], [1995.87, -23.6], [1995.92, -16.6], [1995.96, -8.6], [1996.00, 18.8], [1996.09, 20.4],
  [1996.12, 40.8], [1996.15, 20], [1996.21, 34], [1996.25, 15.4], [1996.31, 16], [1996.35, 21.4], [1996.40, 8.8],
  [1996.43, 6], [1996.47, 2.4], [1996.50, -18.6], [1996.53, -9.6], [1996.57, -11.6], [1996.62, -13.2], [1996.64, -17.2],
  [1996.71, -23.6], [1996.73, -31.2], [1996.78, -37.2], [1996.81, -27.6], [1996.84, -20.6], [1996.86, -25.2], [1996.94, -5.6],
  [1997.01, 14.8], [1997.06, 26.4], [1997.08, 31.4], [1997.13, 30.8], [1997.19, 22.4], [1997.23, 24], [1997.28, 23.4],
  [1997.37, 5.4], [1997.44, 3.4], [1997.50, 2.8], [1997.54, 3.4], [1997.63, -21.6], [1997.70, -29.6], [1997.79, -22],
  [1997.85, -19.6], [1998.00, 9.4], [1998.05, 17.4], [1998.12, 30], [1998.16, 28.8], [1998.20, 24.8], [1998.24, 20.8],
  [1998.29, 11.4], [1998.33, 10.4], [1998.38, 14.4], [1998.44, 4.4], [1998.49, -3.6], [1998.53, -6.6], [1998.58, -29.2],
  [1998.61, -18.6], [1998.64, -6.6], [1998.72, -31.2], [1998.75, -24.6], [1998.79, -19.2], [1998.84, -17.6], [1998.90, -13.6],
  [1998.95, -8.6], [1998.99, -4.6], [1999.04, 12.8], [1999.08, 19.4], [1999.11, 22], [1999.14, 32], [1999.19, 36.4],
  [1999.23, 30.4], [1999.28, 34.4], [1999.32, 26], [1999.37, 10.8], [1999.40, 2.8], [1999.45, -2.6], [1999.52, 1.4],
  [1999.56, -23.2], [1999.61, -18.6], [1999.65, -31.2], [1999.72, -24], [1999.78, -28.6], [1999.84, -24.6], [1999.87, -14.6],
  [1999.91, -23.6], [1999.96, 2.8]
];

const FONT = '"Liberation Sans", Arial, sans-serif';
Chart.defaults.font.family = FONT;
Chart.defaults.color = '#000';

const X_MIN = 1989, X_MAX = 2001;
const PANEL_TOP = 34, PANEL_H = 233;
const COLS = [
  { left: 0, width: 560, plotLeft: 88, plotRight: 553 },
  { left: 560, width: 535, plotLeft: 70, plotRight: 534 }
];

const panels = [
  { name: 'ALT (82°N, 63°W)', col: 0, row: 0, fit: altFit, obs: altObs, ticks: oddTicks },
  { name: 'CBA (55°N, 163°W)', col: 0, row: 1, fit: cbaFit, obs: cbaObs, ticks: plainTicks },
  { name: 'NWR (40°N, 106°W)', col: 0, row: 2, fit: nwrFit, obs: nwrObs, ticks: plainTicks },
  { name: 'LJO (33°N, 117°W)', col: 0, row: 3, fit: ljoFit, obs: ljoObs, ticks: plainTicks },
  { name: 'MLO (20°N, 156°W)', col: 0, row: 4, fit: mloFit, obs: mloObs, ticks: plainTicks, jagged: true },
  { name: 'KUM (20°N, 155°W)', col: 0, row: 5, fit: kumFit, obs: kumObs, ticks: bottomTicks, last: true },
  { name: 'SMO (14°S, 171°W)', col: 1, row: 0, fit: smoFit, obs: smoObs, ticks: oddTicks, jagged: true },
  { name: 'CGO (41°S, 145°E)', col: 1, row: 1, fit: cgoFit, obs: cgoObs, ticks: plainTicks },
  { name: 'PSA (65°S, 64°W)', col: 1, row: 2, fit: psaFit, obs: psaObs, ticks: plainTicks },
  { name: 'SPO (90°S)', col: 1, row: 3, fit: spoFit, obs: spoObs, ticks: bottomTicks, last: true }
];

// frame, inward tick marks and station label
const framePlugin = {
  id: 'frame',
  afterDraw(chart, args, opts) {
    const { ctx, chartArea: a, scales: { x, y } } = chart;
    ctx.save();
    ctx.strokeStyle = '#111';
    ctx.lineWidth = 1.2;
    ctx.strokeRect(a.left, a.top, a.right - a.left, a.bottom - a.top);
    ctx.beginPath();
    x.ticks.forEach(t => {
      if (t.value <= x.min || t.value >= x.max) return;
      const px = x.getPixelForValue(t.value);
      ctx.moveTo(px, a.top); ctx.lineTo(px, a.top + 5);
      ctx.moveTo(px, a.bottom); ctx.lineTo(px, a.bottom - 5);
    });
    y.ticks.forEach(t => {
      if (t.value <= y.min || t.value >= y.max) return;
      const py = y.getPixelForValue(t.value);
      ctx.moveTo(a.left, py); ctx.lineTo(a.left + 4, py);
      ctx.moveTo(a.right, py); ctx.lineTo(a.right - 4, py);
    });
    ctx.stroke();
    ctx.fillStyle = '#000';
    ctx.font = '22px ' + FONT;
    ctx.textAlign = 'right';
    ctx.textBaseline = 'alphabetic';
    ctx.fillText(opts.label, a.right - 8, a.top + 28);
    ctx.restore();
  }
};

function makePanel(p) {
  const col = COLS[p.col];
  const hasTop = p.row === 0, hasBottom = !!p.last;
  const padT = hasTop ? PANEL_TOP : 3, padB = hasBottom ? 34 : 3;
  const cv = document.createElement('canvas');
  cv.width = col.width;
  cv.height = PANEL_H + padT + padB;
  cv.style.left = col.left + 'px';
  cv.style.top = (PANEL_TOP + p.row * PANEL_H - padT) + 'px';
  document.body.appendChild(cv);
  const pxPerYear = (col.plotRight - col.plotLeft) / (X_MAX - X_MIN);
  new Chart(cv, {
    type: 'scatter',
    data: {
      datasets: [
        { data: p.obs.map(([x, y]) => ({ x, y })), pointRadius: 3.3, pointBackgroundColor: '#000', pointBorderWidth: 0 },
        { data: p.fit.map(([x, y]) => ({ x, y })), showLine: true, borderColor: '#000', borderWidth: 1.4,
          pointRadius: 0, cubicInterpolationMode: p.jagged ? 'default' : 'monotone', tension: p.jagged ? 0.15 : 0 }
      ]
    },
    options: {
      responsive: false, animation: false, events: [],
      layout: { autoPadding: false,
        padding: { left: 0, right: col.width - col.plotRight, top: hasTop ? 0 : padT, bottom: hasBottom ? 0 : padB } },
      scales: {
        x: {
          type: 'linear', position: hasTop ? 'top' : 'bottom', min: X_MIN, max: X_MAX,
          grid: { display: false, drawTicks: false }, border: { display: false },
          ticks: { display: hasTop || hasBottom, stepSize: 1, autoSkip: false, maxRotation: 0, minRotation: 0,
                   labelOffset: pxPerYear / 2, padding: hasTop ? 5 : 10, font: { size: 16 },
                   callback: v => yearLabels[v - X_MIN] ?? '' },
          afterFit: s => {
            s.height = hasTop ? padT : (hasBottom ? padB : 0);
            s.paddingLeft = 0; s.paddingRight = 0;
          }
        },
        y: {
          min: -60, max: 80,
          grid: { display: false, drawTicks: false }, border: { display: false },
          ticks: { stepSize: 10, autoSkip: false, padding: 9, font: { size: 16 },
                   callback: v => { const i = yTickValues.indexOf(v); return i >= 0 ? p.ticks[i] : ''; } },
          afterFit: s => {
            s.width = col.plotLeft;
            s.paddingTop = 0; s.paddingBottom = 0;
          }
        }
      },
      plugins: { legend: { display: false }, tooltip: { enabled: false }, frame: { label: p.name } }
    },
    plugins: [framePlugin]
  });
}

panels.forEach(makePanel);
</script>
</body>
</html>
